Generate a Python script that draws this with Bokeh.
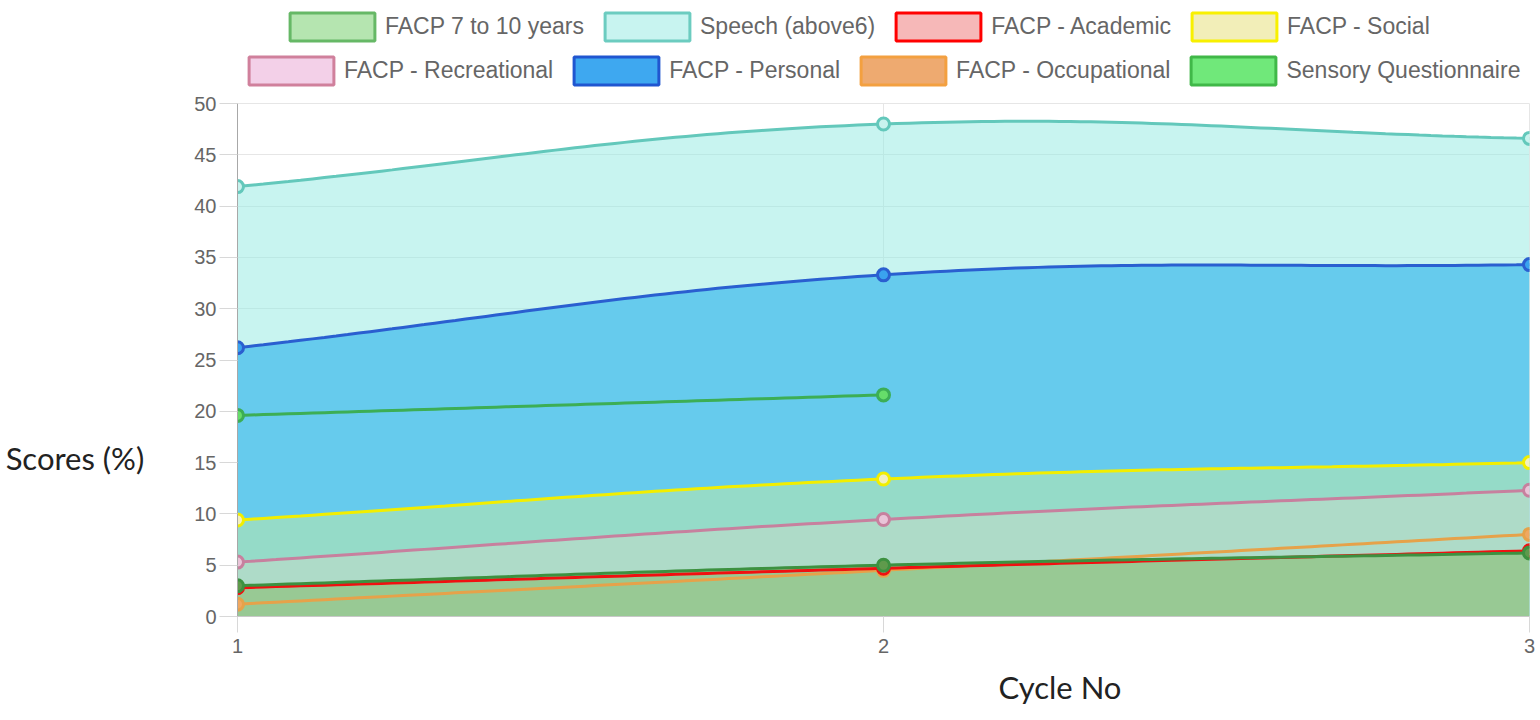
import math
import numpy as np
from bokeh.plotting import figure
from bokeh.layouts import column
from bokeh.models import (Range1d, FixedTicker, SingleIntervalTicker, Legend,
                          LegendItem, Title)
from bokeh.embed import file_html
from bokeh.resources import INLINE

# ---------------- data ----------------
cycles = [1, 2, 3]
facp_7_10 = [3.0, 5.0, 6.2]
speech = [41.9, 48.0, 46.6]
academic = [2.8, 4.7, 6.4]
social = [9.4, 13.4, 15.0]
recreational = [5.3, 9.45, 12.3]
personal = [26.2, 33.3, 34.3]
occupational = [1.2, 4.5, 8.0]
sensory = [19.6, 21.6, None]

legend_row1 = ["FACP 7 to 10 years", "Speech (above6)", "FACP - Academic", "FACP - Social"]
legend_row2 = ["FACP - Recreational", "FACP - Personal", "FACP - Occupational", "Sensory Questionnaire"]
y_ticks_interval = 5
x_label = "Cycle No"
y_label = "Scores (%)"

# ---------------- layout ----------------
W = 1536
LEG_H = 91
H = 629
ML, MR, MT, MB = 237, 7, 12, 104
frame_w = W - ML - MR
frame_h = H - MT - MB
KX = frame_w / 2.0   # px per x unit
KY = frame_h / 50.0  # px per y unit


def spline(xs, ys, tension=0.4, n=60):
    """Chart.js style cubic spline, sampled for drawing."""
    pts = [(x, y) for x, y in zip(xs, ys) if y is not None]
    m = len(pts)
    prevc, nextc = [], []
    for i in range(m):
        px, py = pts[max(i - 1, 0)]
        cx, cy = pts[i]
        nx, ny = pts[min(i + 1, m - 1)]
        d01 = math.hypot((cx - px) * KX, (cy - py) * KY)
        d12 = math.hypot((nx - cx) * KX, (ny - cy) * KY)
        tot = d01 + d12
        s01 = d01 / tot if tot else 0
        s12 = d12 / tot if tot else 0
        fa, fb = tension * s01, tension * s12
        prevc.append((cx - fa * (nx - px), cy - fa * (ny - py)))
        nextc.append((cx + fb * (nx - px), cy + fb * (ny - py)))
    sx, sy = [], []
    t = np.linspace(0, 1, n)
    for i in range(m - 1):
        p0, p1, p2, p3 = pts[i], nextc[i], prevc[i + 1], pts[i + 1]
        bx = (1 - t) ** 3 * p0[0] + 3 * (1 - t) ** 2 * t * p1[0] + 3 * (1 - t) * t ** 2 * p2[0] + t ** 3 * p3[0]
        by = (1 - t) ** 3 * p0[1] + 3 * (1 - t) ** 2 * t * p1[1] + 3 * (1 - t) * t ** 2 * p2[1] + t ** 3 * p3[1]
        if i > 0:
            bx, by = bx[1:], by[1:]
        sx.extend(bx.tolist())
        sy.extend(by.tolist())
    return sx, sy, [p[0] for p in pts], [p[1] for p in pts]


series = {
    "FACP 7 to 10 years": dict(y=facp_7_10, line="#3d9140", pfill="#5f9a4c", lbox="#b5e5b0", lborder="#66b866"),
    "Speech (above6)": dict(y=speech, line="#63c8bb", pfill="#c8f3ee", lbox="#c8f4f0", lborder="#6cccc0"),
    "FACP - Academic": dict(y=academic, line="#f01010", pfill="#f2a0a0", lbox="#f6b8b8", lborder="#ff0000"),
    "FACP - Social": dict(y=social, line="#f2ee00", pfill="#f2f0c0", lbox="#f2eeb8", lborder="#f8f000"),
    "FACP - Recreational": dict(y=recreational, line="#c7809e", pfill="#e9c4d8", lbox="#f3d0e8", lborder="#d0809c"),
    "FACP - Personal": dict(y=personal, line="#2a5fd0", pfill="#3aa3ee", lbox="#3ea8f0", lborder="#2056d0"),
    "FACP - Occupational": dict(y=occupational, line="#e6a24a", pfill="#f0a860", lbox="#eeaa70", lborder="#f3a040"),
    "Sensory Questionnaire": dict(y=sensory, line="#3cae55", pfill="#66dd6a", lbox="#70e87a", lborder="#40b848"),
}

# ---------------- legend strip (own figure, frame aligned with the chart) ----------------
lf = figure(width=W, height=LEG_H, output_backend="svg", toolbar_location=None,
            x_range=Range1d(0, 1), y_range=Range1d(0, 1), x_axis_type=None,
            y_axis_type=None, min_border_left=ML, min_border_right=MR,
            min_border_top=0, min_border_bottom=0, outline_line_color=None,
            background_fill_color="white", border_fill_color="white")
lf.xgrid.visible = False
lf.ygrid.visible = False


def make_legend(names, vx, vy):
    items = []
    for n in names:
        s = series[n]
        # swatch proxy, kept outside the visible range
        r = lf.quad(left=[2], right=[3], top=[3], bottom=[2], fill_color=s["lbox"],
                    line_color=s["lborder"], line_width=3)
        items.append(LegendItem(label=n, renderers=[r]))
    lg = Legend(items=items, orientation="horizontal", location=(vx, vy),
                glyph_width=106, glyph_height=35, label_standoff=0, spacing=10,
                padding=0, margin=0, border_line_color=None,
                background_fill_alpha=0, label_text_font="Liberation Sans",
                label_text_font_size="23px", label_text_color="#666666")
    lf.add_layout(lg, "center")

make_legend(legend_row1, 42, 47.5)
make_legend(legend_row2, 1, 3.5)

# ---------------- main chart ----------------
p = figure(width=W, height=H, output_backend="svg", toolbar_location=None,
           x_range=Range1d(1, 3), y_range=Range1d(0, 50), title=None,
           min_border_left=ML, min_border_right=MR, min_border_top=MT,
           min_border_bottom=MB, outline_line_color="#e6e6e6",
           background_fill_color="white", border_fill_color="white")

grid_col = "#e6e6e6"
p.xaxis.ticker = FixedTicker(ticks=cycles)
p.yaxis.ticker = SingleIntervalTicker(interval=y_ticks_interval)
p.xgrid.ticker = FixedTicker(ticks=cycles)
p.ygrid.ticker = SingleIntervalTicker(interval=y_ticks_interval)
p.xgrid.grid_line_color = grid_col
p.ygrid.grid_line_color = grid_col
for ax in (p.xaxis[0], p.yaxis[0]):
    ax.major_label_text_font = "Liberation Sans"
    ax.major_label_text_font_size = "20px"
    ax.major_label_text_color = "#666666"
    ax.minor_tick_line_color = None
    ax.major_tick_in = 0
    ax.major_tick_line_color = "#d8d8d8"
p.yaxis.axis_line_color = "#a8a8a8"
p.xaxis.axis_line_color = "#c8c8c8"
p.yaxis.major_tick_out = 18
p.yaxis.major_label_standoff = 3
p.xaxis.major_tick_out = 16
p.xaxis.major_label_standoff = 6

# y title: horizontal, sitting lower than the axis centre (leading blank lines push it down)
p.yaxis.axis_label = "\n\n\n\n\n" + y_label
p.yaxis.axis_label_orientation = "horizontal"
p.yaxis.axis_label_standoff = 47
p.yaxis.axis_label_text_font = "Lato"
p.yaxis.axis_label_text_font_size = "31px"
p.yaxis.axis_label_text_font_style = "normal"
p.yaxis.axis_label_text_color = "#222222"
p.yaxis.axis_label_text_line_height = 1.03

# x title, offset to the right as in the original
p.add_layout(Title(text=x_label, align="left", offset=761, standoff=20,
                   text_font="Lato", text_font_size="31px",
                   text_font_style="normal", text_color="#222222"), "below")

# fills (observed composite colours), drawn from the highest band down
fills = [
    ("Speech (above6)", "#91e9e1", 0.5),
    ("FACP - Personal", "#66cbed", 1.0),
    ("FACP - Social", "#95dbc8", 1.0),
    ("FACP - Recreational", "#aedbc8", 1.0),
    ("FACP 7 to 10 years", "#98c994", 1.0),
]
for name, col, a in fills:
    sx, sy, _, _ = spline(cycles, series[name]["y"])
    p.varea(x=sx, y1=[0] * len(sx), y2=sy, fill_color=col, fill_alpha=a)

# lines and points, bottom to top
draw_order = ["Sensory Questionnaire", "FACP - Occupational", "FACP - Personal",
              "FACP - Recreational", "FACP - Social", "FACP - Academic",
              "Speech (above6)", "FACP 7 to 10 years"]
for name in draw_order:
    s = series[name]
    sx, sy, px, py = spline(cycles, s["y"])
    p.line(sx, sy, line_color=s["line"], line_width=3)
    p.scatter(px, py, size=12, fill_color=s["pfill"], line_color=s["line"], line_width=3)

layout = column(lf, p, spacing=0)
open("out.html", "w").write(file_html(layout, INLINE))
